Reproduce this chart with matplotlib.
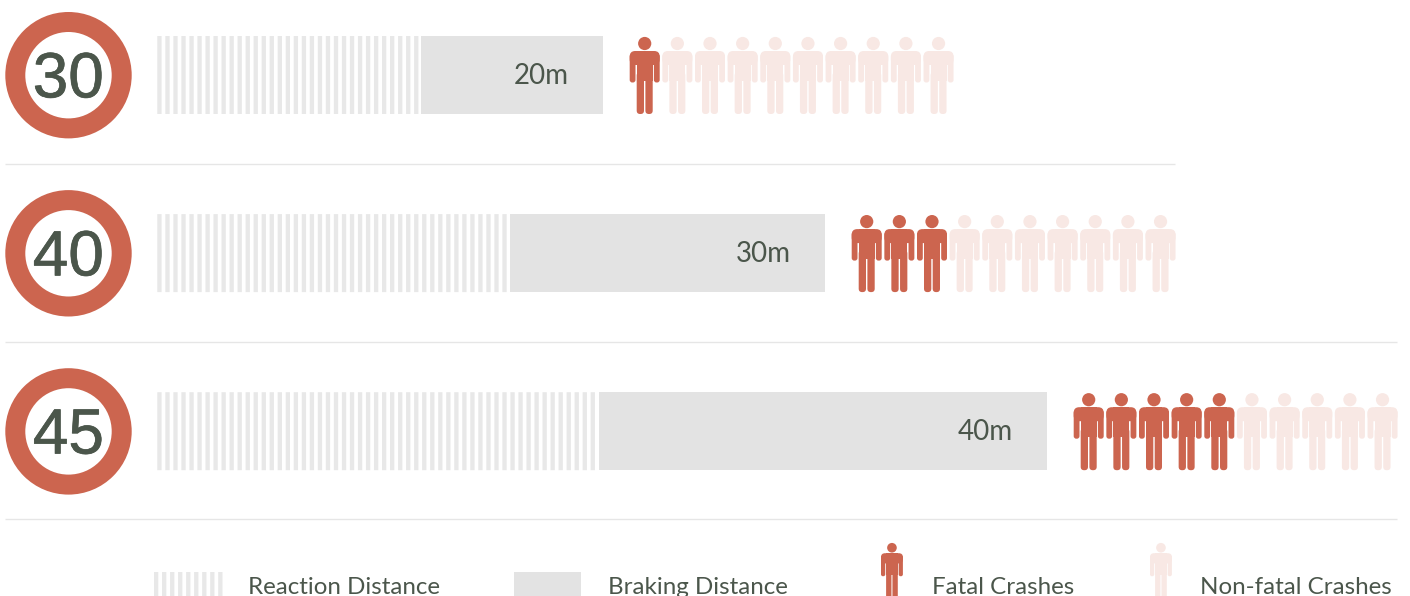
#!/usr/bin/env python3

"""
Speed vs stopping distance and crash outcomes
"""

import matplotlib
matplotlib.use('Agg')
import matplotlib.pyplot as plt
import matplotlib.patheffects as pe
from matplotlib.patches import Circle, FancyBboxPatch, Rectangle

# data
speeds = ['30', '40', '45']
reaction_lengths = [261, 349.5, 439]
braking_lengths = [182, 315.5, 448]
braking_labels = ['20m', '30m', '40m']
fatal_counts = [1, 3, 5]
legend_labels = ['Reaction Distance', 'Braking Distance', 'Fatal Crashes', 'Non-fatal Crashes']

RED = '#cc654f'
LIGHT_RED = '#f8e8e4'
GREY = '#e3e3e3'
STRIPE = '#e8e8e8'
TEXT = '#4b564b'
RULE = '#e6e6e6'
LABEL_FONT = ['Lato', 'DejaVu Sans']

ROW_STEP = 178.1
STRIPE_STEP = 8.025
STRIPE_W = 4.3
PERSON_STEP = 32.65


def draw_stripes(ax, x0, y0, length, height):
    x = x0
    while x < x0 + length - 1:
        ax.add_patch(Rectangle((x, y0), STRIPE_W, height, fc=STRIPE, ec='none', snap=False))
        x += STRIPE_STEP


def rounded(ax, x, y, w, h, r, color):
    ax.add_patch(FancyBboxPatch((x + r, y + r), w - 2 * r, h - 2 * r,
                                boxstyle=f'round,pad={r},rounding_size={r}',
                                fc=color, ec='none'))


def draw_person(ax, x, y, color, s=1.0):
    # x, y is the top left of a 30 x 77 icon
    ax.add_patch(Circle((x + 15 * s, y + 6.5 * s), 6.6 * s, fc=color, ec='none'))
    # shoulders
    rounded(ax, x, y + 14 * s, 30 * s, 14 * s, 5.5 * s, color)
    # arms
    rounded(ax, x, y + 17 * s, 5.8 * s, 28.5 * s, 2.6 * s, color)
    rounded(ax, x + 24.2 * s, y + 17 * s, 5.8 * s, 28.5 * s, 2.6 * s, color)
    # torso
    ax.add_patch(Rectangle((x + 7 * s, y + 14 * s), 16 * s, 30 * s, fc=color, ec='none'))
    # legs
    rounded(ax, x + 7 * s, y + 35 * s, 7.3 * s, 42 * s, 3.4 * s, color)
    rounded(ax, x + 15.7 * s, y + 35 * s, 7.3 * s, 42 * s, 3.4 * s, color)


def main():
    fig = plt.figure(figsize=(14.1, 5.96), dpi=100)
    ax = fig.add_axes([0, 0, 1, 1])
    ax.set_xlim(0, 1410)
    ax.set_ylim(596, 0)
    ax.axis('off')

    for i, speed in enumerate(speeds):
        dy = i * ROW_STEP

        # speed sign
        ax.add_patch(Circle((68.5, 75.2 + dy), 63.2, fc=RED, ec='none'))
        ax.add_patch(Circle((68.5, 75.2 + dy), 43.2, fc='white', ec='none'))
        ax.text(68.3, 73.8 + dy, speed, family=['Liberation Sans'], fontsize=46,
                color=TEXT, ha='center', va='center_baseline',
                path_effects=[pe.withStroke(linewidth=0.5, foreground=TEXT)])

        # bars
        draw_stripes(ax, 157.3, 36 + dy, reaction_lengths[i], 78)
        brake_x = 157 + reaction_lengths[i] + 3
        ax.add_patch(Rectangle((brake_x, 36 + dy), braking_lengths[i], 78, fc=GREY, ec='none'))
        brake_end = brake_x + braking_lengths[i]
        ax.text(brake_end - 34.5, 73.5 + dy, braking_labels[i], family=LABEL_FONT, fontsize=20,
                color=TEXT, ha='right', va='center_baseline')

        # people
        for n in range(10):
            color = RED if n < fatal_counts[i] else LIGHT_RED
            draw_person(ax, brake_end + 26.7 + n * PERSON_STEP, 37 + dy, color)

    # rules
    ax.plot([5, 1175], [164, 164], color=RULE, lw=1, solid_capstyle='butt')
    ax.plot([5, 1397], [342, 342], color=RULE, lw=1, solid_capstyle='butt')
    ax.plot([5, 1397], [519, 519], color=RULE, lw=1, solid_capstyle='butt')

    # legend, runs off the bottom edge like the original
    draw_stripes(ax, 154, 572, 68, 40)
    ax.add_patch(Rectangle((514, 572), 67, 40, fc=GREY, ec='none'))
    draw_person(ax, 881, 543, RED, s=0.73)
    draw_person(ax, 1150, 543, LIGHT_RED, s=0.73)

    for x, label in zip([248, 608, 932, 1200], legend_labels):
        ax.text(x, 594, label, family=LABEL_FONT, fontsize=17.4, color=TEXT, ha='left', va='baseline')

    fig.savefig('out.png', dpi=100)


if __name__ == "__main__":
    main()
